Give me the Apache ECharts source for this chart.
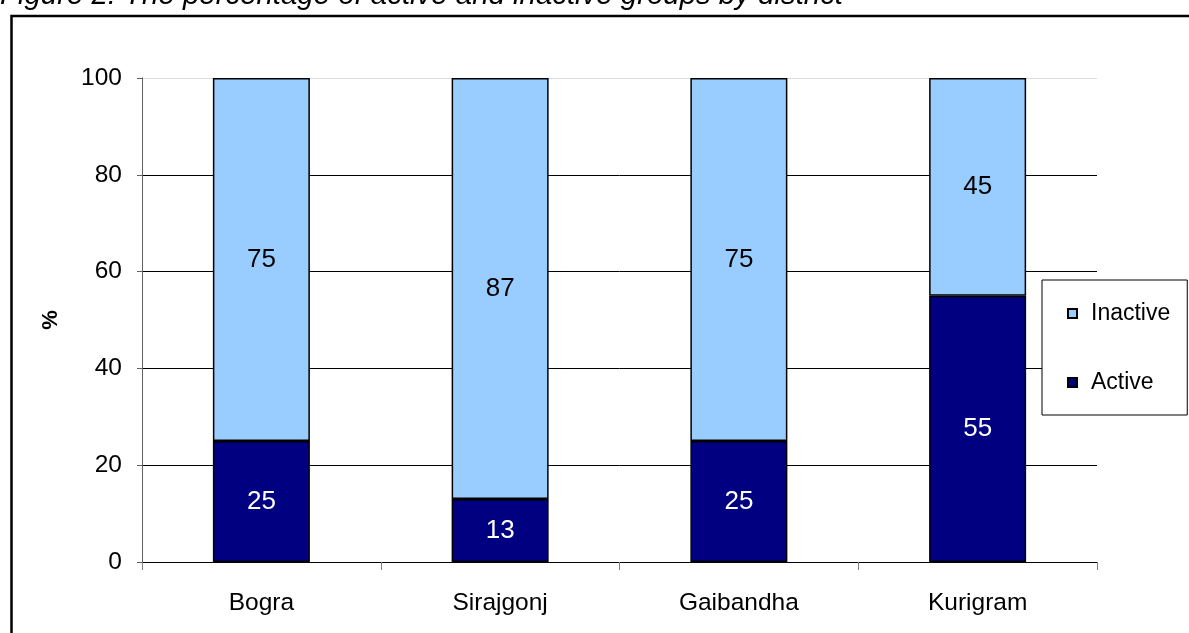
<!DOCTYPE html>
<html>
<head>
<meta charset="utf-8">
<script src="https://cdn.jsdelivr.net/npm/echarts@6/dist/echarts.min.js"></script>
<style>
  html, body { margin: 0; padding: 0; background: #fff; }
  #chart { width: 1189px; height: 633px; }
</style>
</head>
<body>
<div id="chart"></div>
<script>
// Districts and share of groups (%) in each activity state
const districts = ['Bogra', 'Sirajgonj', 'Gaibandha', 'Kurigram'];
const activeShare = [25, 13, 25, 55];
const inactiveShare = [75, 87, 75, 45];
const yTicks = [0, 20, 40, 60, 80, 100];

const FONT = 'Liberation Sans, Arial, sans-serif';
const chart = echarts.init(document.getElementById('chart'), null, { renderer: 'canvas' });

chart.setOption({
  backgroundColor: '#ffffff',
  animation: false,
  graphic: [
    {
      type: 'text',
      left: 0,
      top: -19,
      style: {
        text: 'Figure 2: The percentage of active and inactive groups by district',
        font: 'italic 29.4px ' + FONT,
        fill: '#000'
      }
    },
    {
      type: 'rect',
      shape: { x: 11.5, y: 16, width: 1300, height: 800 },
      style: { fill: 'none', stroke: '#000', lineWidth: 2.5 },
      z: 10
    }
  ],
  grid: { left: 142, right: 92, top: 78, bottom: 71, containLabel: false },
  legend: {
    data: ['Inactive', 'Active'],
    orient: 'vertical',
    left: 1042,
    top: 280,
    icon: 'rect',
    padding: [22, 17, 21, 25],
    itemGap: 46,
    itemWidth: 9,
    itemHeight: 9,
    backgroundColor: '#fff',
    borderColor: '#000',
    borderWidth: 1,
    textStyle: { fontFamily: FONT, fontSize: 23, color: '#000', padding: [0, 0, 0, 9] }
  },
  xAxis: {
    type: 'category',
    data: districts,
    axisLine: { lineStyle: { color: '#000', width: 1 } },
    axisTick: { show: true, length: 8, lineStyle: { color: '#808080' } },
    axisLabel: { fontFamily: FONT, fontSize: 24.5, color: '#000', margin: 29 }
  },
  yAxis: {
    type: 'value',
    min: yTicks[0],
    max: yTicks[yTicks.length - 1],
    interval: yTicks[1] - yTicks[0],
    name: '%',
    nameLocation: 'middle',
    nameGap: 80,
    nameRotate: 90,
    nameTextStyle: { fontFamily: FONT, fontSize: 22, fontWeight: 'bold', color: '#000' },
    axisLine: { show: true, lineStyle: { color: '#606060', width: 1 } },
    axisTick: { show: true, length: 5, inside: false, lineStyle: { color: '#606060' } },
    axisLabel: { fontFamily: FONT, fontSize: 24.5, color: '#000', margin: 20 },
    splitLine: {
      show: true,
      lineStyle: { color: ['#000', '#000', '#000', '#000', '#000', '#dcdcdc'], width: 1 }
    }
  },
  series: [
    {
      name: 'Active',
      type: 'bar',
      stack: 'share',
      data: activeShare,
      barWidth: 97,
      itemStyle: { color: '#000080', borderColor: '#000', borderWidth: 1.5 },
      label: {
        show: true,
        position: 'inside',
        color: '#fff',
        fontFamily: FONT,
        fontSize: 26
      }
    },
    {
      name: 'Inactive',
      type: 'bar',
      stack: 'share',
      data: inactiveShare,
      barWidth: 97,
      itemStyle: { color: '#99ccff', borderColor: '#000', borderWidth: 1.5 },
      label: {
        show: true,
        position: 'inside',
        color: '#000',
        fontFamily: FONT,
        fontSize: 26
      }
    }
  ]
});
</script>
</body>
</html>
